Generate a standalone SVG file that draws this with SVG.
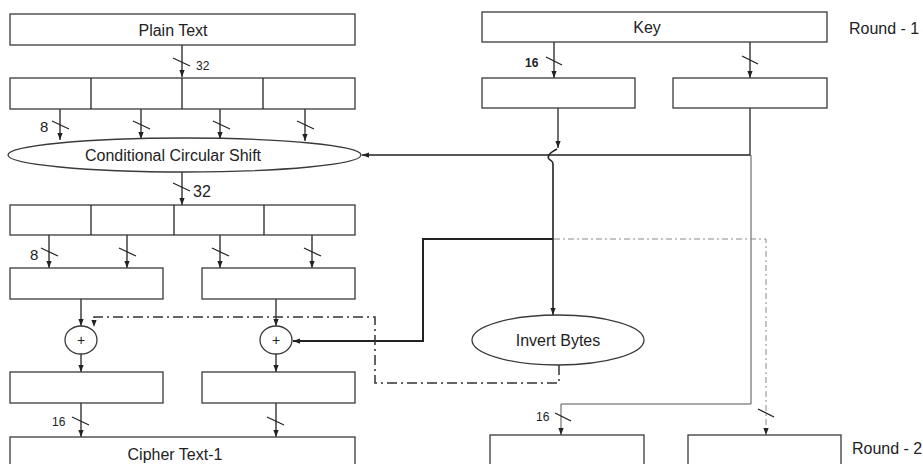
<svg xmlns="http://www.w3.org/2000/svg" width="923" height="464" viewBox="0 0 923 464">
<style>
  .bx { fill: #fff; stroke: #3a3a3a; stroke-width: 1.3; }
  .tx { font-family: "Liberation Sans", Arial, sans-serif; font-size: 16px; fill: #222; }
  .num { font-family: "Liberation Sans", Arial, sans-serif; font-size: 12px; fill: #222; }
  .ln { fill: none; stroke: #222; stroke-width: 1.3; }
  .thk { fill: none; stroke: #222; stroke-width: 2; }
  .thin { fill: none; stroke: #555; stroke-width: 1; }
  .dd { fill: none; stroke: #333; stroke-width: 1.5; stroke-dasharray: 10 4 2 4; }
  .gdd { fill: none; stroke: #888; stroke-width: 1; stroke-dasharray: 6 3 2 3; }
  .sl { stroke: #222; stroke-width: 1.3; }
</style>
<defs>
  <marker id="ah" viewBox="0 0 8 6" refX="8" refY="3" markerWidth="7" markerHeight="5.5" markerUnits="userSpaceOnUse" orient="auto">
    <path d="M0,0 L8,3 L0,6 z" fill="#222"/>
  </marker>
</defs>
<rect width="923" height="464" fill="#fff"/>

<g id="connectors">
  <path class="ln" d="M182,45 V77" marker-end="url(#ah)"/>
  <path class="ln" d="M60,109 V140" marker-end="url(#ah)"/>
  <path class="ln" d="M141,109 V139" marker-end="url(#ah)"/>
  <path class="ln" d="M220,109 V139" marker-end="url(#ah)"/>
  <path class="ln" d="M305,109 V141" marker-end="url(#ah)"/>
  <path class="ln" d="M182,172 V205" marker-end="url(#ah)"/>
  <path class="ln" d="M49,235 V268" marker-end="url(#ah)"/>
  <path class="ln" d="M127,235 V268" marker-end="url(#ah)"/>
  <path class="ln" d="M220,235 V268" marker-end="url(#ah)"/>
  <path class="ln" d="M312,235 V268" marker-end="url(#ah)"/>
  <path class="ln" d="M81,299 V326" marker-end="url(#ah)"/>
  <path class="ln" d="M276,299 V326" marker-end="url(#ah)"/>
  <path class="ln" d="M81,354 V372" marker-end="url(#ah)"/>
  <path class="ln" d="M276,354 V372" marker-end="url(#ah)"/>
  <path class="ln" d="M81,403 V437" marker-end="url(#ah)"/>
  <path class="ln" d="M276,403 V437" marker-end="url(#ah)"/>
  <path class="ln" d="M554,42 V78" marker-end="url(#ah)"/>
  <path class="ln" d="M750,42 V78" marker-end="url(#ah)"/>
  <path class="ln" d="M558,108 V148" marker-end="url(#ah)"/>
  <path class="ln" d="M750,108 V155 H362" marker-end="url(#ah)"/>
  <path class="thin" d="M751,155 V404 H561 V435" marker-end="url(#ah)"/>
  <path class="ln" d="M557,149 C553,151 546,155 549,159 C551,161 553,161 553,164 V315" marker-end="url(#ah)" style="stroke-width:1.6"/>
  <path class="thk" d="M553,239 H423 V341 H293" marker-end="url(#ah)"/>
  <path class="gdd" d="M554,239 H766 V435" marker-end="url(#ah)"/>
  <path class="dd" d="M559,365 V383 H375 V317 H94 V327" marker-end="url(#ah)"/>
  <!-- bus width slashes -->
  <line class="sl" x1="173" y1="58" x2="190" y2="66"/>
  <line class="sl" x1="52" y1="121" x2="69" y2="129"/>
  <line class="sl" x1="133" y1="121" x2="150" y2="129"/>
  <line class="sl" x1="213" y1="121" x2="230" y2="129"/>
  <line class="sl" x1="297" y1="121" x2="314" y2="129"/>
  <line class="sl" x1="173" y1="183" x2="190" y2="191"/>
  <line class="sl" x1="41" y1="248" x2="58" y2="256"/>
  <line class="sl" x1="119" y1="248" x2="136" y2="256"/>
  <line class="sl" x1="212" y1="248" x2="229" y2="256"/>
  <line class="sl" x1="304" y1="248" x2="321" y2="256"/>
  <line class="sl" x1="72" y1="417" x2="89" y2="425"/>
  <line class="sl" x1="267" y1="417" x2="284" y2="425"/>
  <line class="sl" x1="546" y1="57" x2="562" y2="65"/>
  <line class="sl" x1="742" y1="56" x2="758" y2="64"/>
  <line class="sl" x1="555" y1="413" x2="571" y2="421"/>
  <line class="sl" x1="758" y1="409" x2="774" y2="417"/>
  <text class="num" x="196" y="70">32</text>
  <text class="tx" x="193" y="197">32</text>
  <text class="tx" x="40" y="132" style="font-size:15px">8</text>
  <text class="tx" x="30" y="260" style="font-size:15px">8</text>
  <text class="num" x="52" y="426">16</text>
  <text class="num" x="525" y="67" style="font-weight:bold">16</text>
  <text class="num" x="536" y="421">16</text>
</g>

<g id="plain-text">
  <rect class="bx" x="10" y="14" width="345" height="31"/>
  <text class="tx" x="173" y="35.5" text-anchor="middle">Plain Text</text>
</g>
<g id="split-1">
  <rect class="bx" x="10" y="78" width="345" height="31"/>
  <line class="ln" x1="91" y1="78" x2="91" y2="109"/>
  <line class="ln" x1="182" y1="78" x2="182" y2="109"/>
  <line class="ln" x1="263" y1="78" x2="263" y2="109"/>
</g>
<g id="shift">
  <ellipse class="bx" cx="184.5" cy="155" rx="176.5" ry="17"/>
  <text class="tx" x="173" y="160.5" text-anchor="middle">Conditional Circular Shift</text>
</g>
<g id="split-2">
  <rect class="bx" x="10" y="205" width="345" height="30"/>
  <line class="ln" x1="91" y1="205" x2="91" y2="235"/>
  <line class="ln" x1="174" y1="205" x2="174" y2="235"/>
  <line class="ln" x1="264" y1="205" x2="264" y2="235"/>
</g>
<g id="half-left"><rect class="bx" x="10" y="268" width="153" height="31"/></g>
<g id="half-right"><rect class="bx" x="202" y="268" width="153" height="31"/></g>
<g id="xor-left">
  <ellipse class="bx" cx="81" cy="340" rx="16" ry="14"/>
  <text class="tx" x="81" y="345" text-anchor="middle" style="font-size:14px">+</text>
</g>
<g id="xor-right">
  <ellipse class="bx" cx="276" cy="340" rx="16" ry="14"/>
  <text class="tx" x="276" y="345" text-anchor="middle" style="font-size:14px">+</text>
</g>
<g id="out-left"><rect class="bx" x="10" y="372" width="153" height="31"/></g>
<g id="out-right"><rect class="bx" x="202" y="372" width="153" height="31"/></g>
<g id="cipher">
  <rect class="bx" x="10" y="437" width="345" height="40"/>
  <text class="tx" x="175" y="460" text-anchor="middle">Cipher Text-1</text>
</g>
<g id="key">
  <rect class="bx" x="482" y="12" width="345" height="30"/>
  <text class="tx" x="647" y="33" text-anchor="middle">Key</text>
</g>
<g id="key-left"><rect class="bx" x="482" y="78" width="153" height="30"/></g>
<g id="key-right"><rect class="bx" x="673" y="78" width="154" height="30"/></g>
<g id="invert">
  <ellipse class="bx" cx="558" cy="340" rx="86" ry="25"/>
  <text class="tx" x="558" y="346" text-anchor="middle">Invert Bytes</text>
</g>
<g id="r2-left"><rect class="bx" x="490" y="435" width="154" height="40"/></g>
<g id="r2-right"><rect class="bx" x="688" y="435" width="153" height="40"/></g>
<g id="labels">
  <text class="tx" x="849" y="34">Round - 1</text>
  <text class="tx" x="852" y="454">Round - 2</text>
</g>
</svg>
